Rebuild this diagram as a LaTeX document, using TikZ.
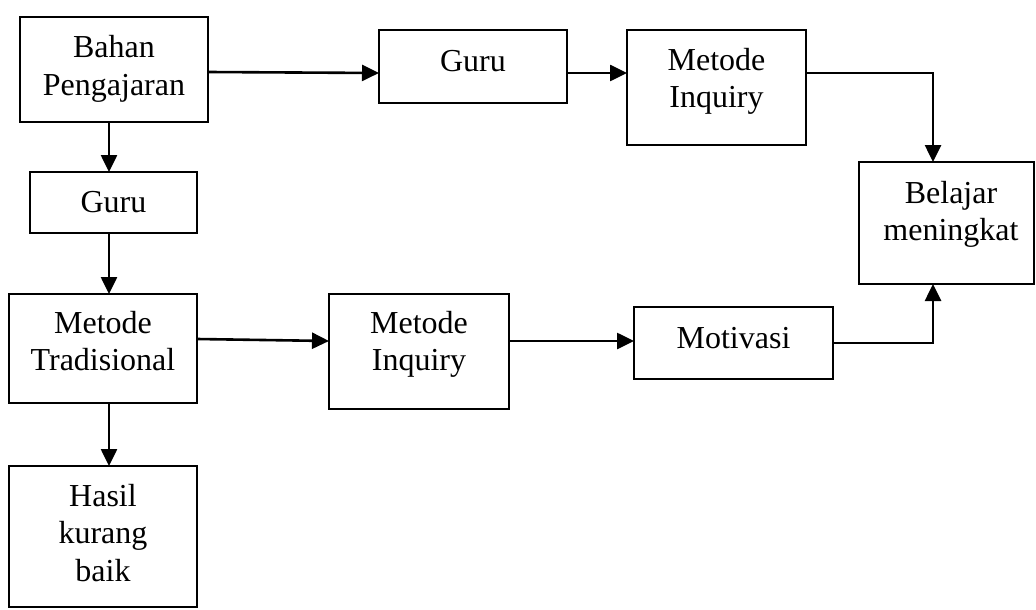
\documentclass[tikz,border=0pt]{standalone}
\usepackage{fontspec}
\setmainfont{Liberation Serif}
\usetikzlibrary{arrows.meta}
\tikzset{
  box/.style={draw=black, line width=2pt, inner sep=0pt, outer sep=0pt, rectangle},
  txt/.style={inner sep=0pt, outer sep=0pt, align=center, anchor=north, font=\fontsize{32}{37.5}\selectfont},
  arr/.style={line width=2.6pt, -{Triangle[length=17pt,width=16pt]}}
}
\begin{document}
\begin{tikzpicture}[x=1pt,y=-1pt]
\useasboundingbox (0,0) rectangle (1036,610);
% boxes
\node[box, minimum width=188pt, minimum height=105pt] (bahan) at (114,69.5) {};
\node[box, minimum width=188pt, minimum height=73pt] (guru1) at (473,66.5) {};
\node[box, minimum width=179pt, minimum height=115pt] (inq1) at (716.5,87.5) {};
\node[box, minimum width=175pt, minimum height=122pt] (bel) at (946.5,223) {};
\node[box, minimum width=167pt, minimum height=61pt] (guru2) at (113.5,202.5) {};
\node[box, minimum width=188pt, minimum height=109pt] (trad) at (103,348.5) {};
\node[box, minimum width=180pt, minimum height=115pt] (inq2) at (419,351.5) {};
\node[box, minimum width=199pt, minimum height=72pt] (mot) at (733.5,343) {};
\node[box, minimum width=188pt, minimum height=141pt] (hasil) at (103,536.5) {};
% texts
\node[txt] (bahanT) at (114,31.5) {\strut Bahan\\Pengajaran};
\node[txt] (guru1T) at (473,45.5) {\strut Guru};
\node[txt] (inq1T) at (716.5,44) {\strut Metode\\Inquiry};
\node[txt] (belT) at (951,177) {\strut Belajar\\meningkat};
\node[txt] (guru2T) at (113.5,186) {\strut Guru};
\node[txt] (tradT) at (103,307) {\strut Metode\\Tradisional};
\node[txt] (inq2T) at (419,307) {\strut Metode\\Inquiry};
\node[txt] (motT) at (733.5,322) {\strut Motivasi};
\node[txt] (hasilT) at (103,480) {\strut Hasil\\kurang\\baik};
% connectors
\draw[arr] ([yshift=-2.5pt]bahan.east) -- ([yshift=-6.5pt]guru1.west);
\draw[arr] ([yshift=-6.5pt]guru1.east) -- ([yshift=14.5pt]inq1.west);
\draw[arr] ([yshift=14.5pt]inq1.east) -| ([xshift=-13.5pt]bel.north);
\draw[arr] (mot.east) -| ([xshift=-13.5pt]bel.south);
\draw[arr] ([xshift=-5pt]bahan.south) -- ([xshift=-4.5pt]guru2.north);
\draw[arr] ([xshift=-4.5pt]guru2.south) -- ([xshift=6pt]trad.north);
\draw[arr] ([yshift=9.5pt]trad.east) -- ([yshift=10.5pt]inq2.west);
\draw[arr] ([yshift=10.5pt]inq2.east) -- ([yshift=2pt]mot.west);
\draw[arr] ([xshift=6pt]trad.south) -- ([xshift=6pt]hasil.north);
\end{tikzpicture}
\end{document}
